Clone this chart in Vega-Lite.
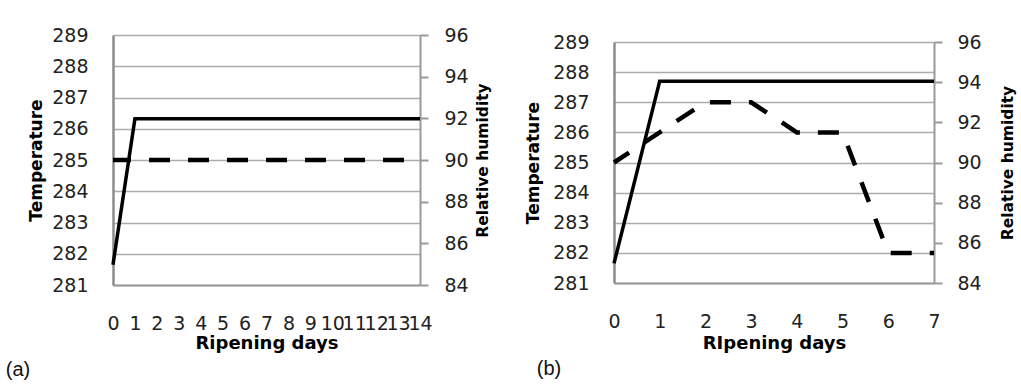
{
  "$schema": "https://vega.github.io/schema/vega-lite/v6.json",
  "padding": {"left": 5, "top": 26, "right": 2, "bottom": 0},
  "config": {"view": {"stroke": null}, "font": "DejaVu Sans"},
  "datasets": {
    "a": [
      {"day": 0, "temp": 281.65, "rh": 90},
      {"day": 1, "temp": 286.32, "rh": 90},
      {"day": 2, "temp": 286.32, "rh": 90},
      {"day": 3, "temp": 286.32, "rh": 90},
      {"day": 4, "temp": 286.32, "rh": 90},
      {"day": 5, "temp": 286.32, "rh": 90},
      {"day": 6, "temp": 286.32, "rh": 90},
      {"day": 7, "temp": 286.32, "rh": 90},
      {"day": 8, "temp": 286.32, "rh": 90},
      {"day": 9, "temp": 286.32, "rh": 90},
      {"day": 10, "temp": 286.32, "rh": 90},
      {"day": 11, "temp": 286.32, "rh": 90},
      {"day": 12, "temp": 286.32, "rh": 90},
      {"day": 13, "temp": 286.32, "rh": 90},
      {"day": 14, "temp": 286.32, "rh": 90}
    ],
    "b": [
      {"day": 0, "temp": 281.65, "rh": 90},
      {"day": 1, "temp": 287.7, "rh": 91.5},
      {"day": 2, "temp": 287.7, "rh": 93},
      {"day": 3, "temp": 287.7, "rh": 93},
      {"day": 4, "temp": 287.7, "rh": 91.5},
      {"day": 5, "temp": 287.7, "rh": 91.5},
      {"day": 6, "temp": 287.7, "rh": 85.5},
      {"day": 7, "temp": 287.7, "rh": 85.5}
    ]
  },
  "spacing": 33,
  "hconcat": [
    {
      "width": 307,
      "height": 250,
      "data": {"name": "a"},
      "title": {"text": "(a)", "orient": "bottom", "anchor": "start", "dx": -22, "offset": 8, "font": "Liberation Sans", "fontSize": 20, "fontWeight": "normal", "color": "#111"},
      "resolve": {"scale": {"y": "independent"}},
      "layer": [
        {
          "mark": {"type": "line", "color": "#000", "strokeWidth": 3.5},
          "encoding": {
            "x": {"field": "day", "type": "quantitative", "scale": {"domain": [0, 14], "nice": false, "zero": false},
              "axis": {"orient": "bottom", "values": [0,1,2,3,4,5,6,7,8,9,10,11,12,13,14], "grid": false, "domain": true, "domainColor": "#999", "domainWidth": 2, "ticks": false, "labelPadding": 29, "labelOverlap": false, "labelBound": false, "labelFlush": false, "labelFont": "DejaVu Sans", "labelFontSize": 19, "labelColor": "#222", "title": "Ripening days", "titleFont": "DejaVu Sans", "titleFontSize": 18, "titleFontWeight": "bold", "titleColor": "#000", "titlePadding": 1}},
            "y": {"field": "temp", "type": "quantitative", "scale": {"domain": [281, 289], "nice": false, "zero": false},
              "axis": {"orient": "left", "values": [281,282,283,284,285,286,287,288,289], "format": "d", "grid": true, "gridColor": "#ababab", "gridWidth": 1.5, "domain": true, "domainColor": "#8c8c8c", "domainWidth": 2.5, "ticks": false, "labelPadding": 25, "labelFont": "DejaVu Sans", "labelFontSize": 19, "labelColor": "#222", "title": "Temperature", "titleFont": "DejaVu Sans", "titleFontSize": 17, "titleFontWeight": "bold", "titleColor": "#000", "titlePadding": 6}}
          }
        },
        {
          "mark": {"type": "line", "color": "#000", "strokeWidth": 4.5, "strokeDash": [21, 18], "strokeDashOffset": 3, "strokeCap": "butt"},
          "encoding": {
            "x": {"field": "day", "type": "quantitative", "scale": {"domain": [0, 14], "nice": false, "zero": false},
              "axis": {"orient": "bottom", "values": [0,1,2,3,4,5,6,7,8,9,10,11,12,13,14], "grid": false, "domain": true, "domainColor": "#999", "domainWidth": 2, "ticks": false, "labelPadding": 29, "labelOverlap": false, "labelBound": false, "labelFlush": false, "labelFont": "DejaVu Sans", "labelFontSize": 19, "labelColor": "#222", "title": "Ripening days", "titleFont": "DejaVu Sans", "titleFontSize": 18, "titleFontWeight": "bold", "titleColor": "#000", "titlePadding": 1}},
            "y": {"field": "rh", "type": "quantitative", "scale": {"domain": [84, 96], "nice": false, "zero": false},
              "axis": {"orient": "right", "values": [84,86,88,90,92,94,96], "format": "d", "grid": false, "domain": true, "domainColor": "#999", "domainWidth": 2, "ticks": true, "tickColor": "#999", "tickWidth": 2, "tickSize": 8, "labelPadding": 16, "labelFont": "DejaVu Sans", "labelFontSize": 19, "labelColor": "#222", "title": "Relative humidity", "titleFont": "DejaVu Sans", "titleFontSize": 15.5, "titleFontWeight": "bold", "titleColor": "#000", "titleAngle": 270, "titleBaseline": "top", "titlePadding": 7}}
          }
        }
      ]
    },
    {
      "spacing": -3,
      "vconcat": [
        {"width": 1, "height": 1, "data": {"values": []}, "mark": "point", "encoding": {}},
        {
          "width": 320,
          "height": 241,
          "data": {"name": "b"},
          "title": {"text": "(b)", "orient": "bottom", "anchor": "start", "dx": 12, "offset": 6.5, "font": "Liberation Sans", "fontSize": 20, "fontWeight": "normal", "color": "#111"},
          "resolve": {"scale": {"y": "independent"}},
          "layer": [
            {
              "mark": {"type": "line", "color": "#000", "strokeWidth": 3.5},
              "encoding": {
                "x": {"field": "day", "type": "quantitative", "scale": {"domain": [0, 7], "nice": false, "zero": false},
                  "axis": {"orient": "bottom", "values": [0,1,2,3,4,5,6,7], "grid": false, "domain": true, "domainColor": "#999", "domainWidth": 2, "ticks": false, "labelPadding": 29, "labelOverlap": false, "labelBound": false, "labelFlush": false, "labelFont": "DejaVu Sans", "labelFontSize": 19, "labelColor": "#222", "title": "RIpening days", "titleFont": "DejaVu Sans", "titleFontSize": 18, "titleFontWeight": "bold", "titleColor": "#000", "titlePadding": 3.5}},
                "y": {"field": "temp", "type": "quantitative", "scale": {"domain": [281, 289], "nice": false, "zero": false},
                  "axis": {"orient": "left", "values": [281,282,283,284,285,286,287,288,289], "format": "d", "grid": true, "gridColor": "#ababab", "gridWidth": 1.5, "domain": true, "domainColor": "#8c8c8c", "domainWidth": 2.5, "ticks": false, "labelPadding": 25, "labelFont": "DejaVu Sans", "labelFontSize": 19, "labelColor": "#222", "title": "Temperature", "titleFont": "DejaVu Sans", "titleFontSize": 17, "titleFontWeight": "bold", "titleColor": "#000", "titlePadding": 10}}
              }
            },
            {
              "mark": {"type": "line", "color": "#000", "strokeWidth": 4.5, "strokeDash": [21, 18], "strokeDashOffset": 3, "strokeCap": "butt"},
              "encoding": {
                "x": {"field": "day", "type": "quantitative", "scale": {"domain": [0, 7], "nice": false, "zero": false},
                  "axis": {"orient": "bottom", "values": [0,1,2,3,4,5,6,7], "grid": false, "domain": true, "domainColor": "#999", "domainWidth": 2, "ticks": false, "labelPadding": 29, "labelOverlap": false, "labelBound": false, "labelFlush": false, "labelFont": "DejaVu Sans", "labelFontSize": 19, "labelColor": "#222", "title": "RIpening days", "titleFont": "DejaVu Sans", "titleFontSize": 18, "titleFontWeight": "bold", "titleColor": "#000", "titlePadding": 3.5}},
                "y": {"field": "rh", "type": "quantitative", "scale": {"domain": [84, 96], "nice": false, "zero": false},
                  "axis": {"orient": "right", "values": [84,86,88,90,92,94,96], "format": "d", "grid": false, "domain": true, "domainColor": "#999", "domainWidth": 2, "ticks": true, "tickColor": "#999", "tickWidth": 2, "tickSize": 8, "labelPadding": 15, "labelFont": "DejaVu Sans", "labelFontSize": 19, "labelColor": "#222", "title": "Relative humidity", "titleFont": "DejaVu Sans", "titleFontSize": 15.5, "titleFontWeight": "bold", "titleColor": "#000", "titleAngle": 270, "titleBaseline": "top", "titlePadding": 19}}
              }
            }
          ]
        }
      ]
    }
  ]
}
